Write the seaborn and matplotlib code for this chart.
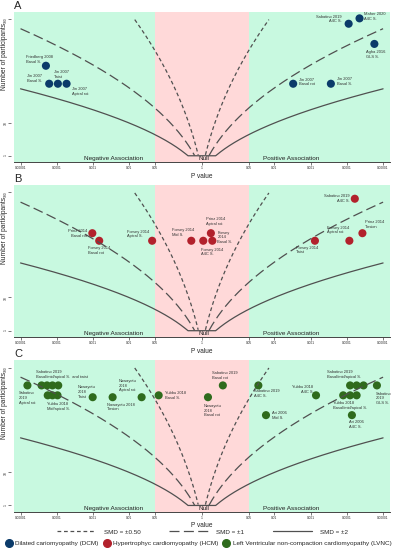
import numpy as np
import seaborn as sns
import matplotlib.pyplot as plt
from matplotlib.lines import Line2D
from statistics import NormalDist

# x position = signed -log10(p): < 0 negative association, > 0 positive association
dcm_labels = ["Friedberg 2008\nBasal S.", "Jin 2007\nBasal S.", "Jin 2007\nTwist", "Jin 2007\nApical rot",
              "Jin 2007\nBasal rot", "Jin 2007\nBasal S.", "Sabatino 2019\nA4C S.", "Maher 2020\nA4C S.",
              "Agha 2016\nGLS S."]
dcm_logp = [-4.30, -4.21, -3.97, -3.73, 2.52, 3.56, 4.05, 4.35, 4.76]
dcm_n = [48, 33, 33, 33, 33, 33, 94, 101, 70]

hcm_labels = ["Prinz 2014\nBasal rot", "Forsey 2014\nBasal rot", "Forsey 2014\nApical S.", "Forsey 2014\nMid S.",
              "Forsey 2014\nA4C S.", "Prinz 2014\nApical rot", "Forsey\n2014\nBasal S.", "Forsey 2014\nTwist",
              "Forsey 2014\nApical rot", "Prinz 2014\nTorsion", "Sabatino 2019\nA4C S."]
hcm_logp = [-3.02, -2.83, -1.37, -0.29, 0.04, 0.25, 0.29, 3.12, 4.07, 4.43, 4.22]
hcm_n = [54, 47, 47, 47, 47, 54, 47, 47, 47, 54, 92]

lvnc_labels = ["Sabatino\n2019\nApical rot", "Sabatino 2019\nBasal/mid/apical S.  and twist", "", "", "",
               "Yubbu 2018\nMid/apical S.", "", "",
               "Nawayotu\n2018\nTwist", "Nawayotu 2018\nTorsion", "Nawayotu\n2018\nApical rot",
               "Yubbu 2018\nBasal S.", "Nawayotu\n2018\nBasal rot", "Sabatino 2019\nBasal rot",
               "Sabatino 2019\nA4C S.", "Ari 2006\nMid S.", "Yubbu 2018\nA4C S.",
               "Sabatino 2019\nBasal/mid/apical S.", "", "",
               "Yubbu 2018\nBasal/mid/apical S.", "", "",
               "Sabatino\n2019\nGLS S.", "Ari 2006\nA4C S."]
lvnc_logp = [-4.81, -4.42, -4.27, -4.12, -3.96, -4.25, -4.12, -3.98,
             -3.01, -2.46, -1.66, -1.19, 0.17, 0.58, 1.56, 1.77, 3.15,
             4.09, 4.27, 4.46, 3.90, 4.09, 4.27, 4.83, 4.14]
lvnc_n = [78, 78, 78, 78, 78, 67, 67, 67,
          65, 65, 65, 67, 65, 78, 78, 47.5, 67,
          78, 78, 78, 67, 67, 67, 78, 47.5]

smd_values = [0.5, 1, 2]
smd_names = ["SMD = \u00b10.50", "SMD = \u00b11", "SMD = \u00b12"]
group_names = ["Dilated cariomyopathy (DCM)", "Hypertrophyc cardiomyopathy (HCM)",
               "Left Ventricular non-compaction cardiomyopathy (LVNC)"]

tick_pos = [-5, -4, -3, -2, -1.301, 0, 1.301, 2, 3, 4, 5]
tick_text = ["0.00001", "0.0001", "0.001", "0.01", "0.05", "1", "0.05", "0.01", "0.001", "0.0001", "0.00001"]

# label placement (dx px, dy px downwards, ha)
dcm_layout = [(-20, -6.5, "left"), (-22.6, -5, "left"), (-3.7, -9.5, "left"), (5, 7.5, "left"),
              (5.7, -1.7, "left"), (5.7, -2, "left"), (-7, -4.7, "right"), (4, -2, "left"),
              (-8.6, 10.8, "left")]
hcm_layout = [(-5, 0, "right"), (-11.6, 9.6, "left"), (-25.3, -6.7, "left"), (-19, -8, "left"),
              (-2.3, 11.3, "left"), (-5, -12, "left"), (5, -3.4, "left"), (-19, 9.3, "left"),
              (-22.3, -10.7, "left"), (2.4, -8.5, "left"), (-5, 0, "right")]
lvnc_layout = [(-8.7, 12.5, "left"), (-5.7, -11.2, "left"), None, None, None,
               (-1, 10.8, "left"), None, None,
               (-15, -5.3, "left"), (-6, 9.7, "left"), (-22.7, -11.5, "left"),
               (6.3, 0, "left"), (-4, 13.5, "left"), (-11.3, -10.2, "left"),
               (-4, 8, "left"), (5.7, 0, "left"), (-2.7, -6.2, "right"),
               (-23.3, -10.8, "left"), None, None,
               (-10.6, 9.8, "left"), None, None,
               (-1, 13, "left"), (-2.7, 9.2, "left")]

colors = ["#0b3b6a", "#b2212c", "#2f6b1d"]
line_col = "#505050"
dash_styles = [(3, 2.2), (8, 3.5), None]
green_bg = "#c8f9e0"
pink_bg = "#ffd9d9"

sns.set_theme(style="ticks")
plt.rcParams["font.family"] = ["Liberation Sans", "DejaVu Sans"]

fig = plt.figure(figsize=(3.97, 5.5), dpi=100)

norm = NormalDist()
xs = np.linspace(-5, 5, 1001)
zs = np.array([norm.inv_cdf(1 - 10 ** -abs(v) / 2) for v in xs])


def contour(d, floor):
    n = zs ** 2 * (4 + d ** 2 / 2) / d ** 2
    if floor:
        n = np.maximum(n, 1)
    else:
        n = np.where(n < 1, np.nan, n)
    return np.where(n > 100, np.nan, n)


panels = [
    ("A", dcm_logp, dcm_n, dcm_labels, dcm_layout, colors[0], [0.0353, 0.7055, 0.947, 0.2732]),
    ("B", hcm_logp, hcm_n, hcm_labels, hcm_layout, colors[1], [0.0353, 0.3873, 0.947, 0.2764]),
    ("C", lvnc_logp, lvnc_n, lvnc_labels, lvnc_layout, colors[2], [0.0353, 0.0696, 0.947, 0.2758]),
]

for letter, xv, nv, labs, layout, col, rect in panels:
    ax = fig.add_axes(rect)
    ax.set_yscale("function", functions=(lambda v: np.sqrt(np.clip(v, 0, None)), np.square))
    ax.set_xlim(-5.18, 5.19)
    ax.set_ylim(0.35, 110)
    ax.axvspan(-6, -1.301, color=green_bg, lw=0, zorder=0)
    ax.axvspan(1.301, 6, color=green_bg, lw=0, zorder=0)
    ax.axvspan(-1.301, 1.301, color=pink_bg, lw=0, zorder=0)

    for d, ds in zip(smd_values, dash_styles):
        line, = ax.plot(xs, contour(d, ds is None), color=line_col, lw=0.9, zorder=4)
        if ds is not None:
            line.set_dashes(ds)

    sns.scatterplot(x=xv, y=nv, ax=ax, s=34, color=col, edgecolor="none", zorder=3, legend=False)

    for x, n, lab, lay in zip(xv, nv, labs, layout):
        if not lab:
            continue
        dx, dy, ha = lay
        ax.annotate(lab, (x, n), xytext=(dx, -dy), textcoords="offset pixels", ha=ha, va="center",
                    fontsize=2.9, linespacing=1.25, color="#333333", zorder=5)

    trans = ax.get_xaxis_transform()
    ax.text(-2.44, 0.004, "Negative Association", transform=trans, ha="center", va="bottom",
            fontsize=4.6, color="#222222")
    ax.text(0.05, 0.004, "Null", transform=trans, ha="center", va="bottom", fontsize=4.6, color="#222222")
    ax.text(2.46, 0.004, "Positive Association", transform=trans, ha="center", va="bottom",
            fontsize=4.6, color="#222222")

    ax.set_xticks(tick_pos)
    ax.set_xticklabels(tick_text)
    ax.set_yticks([1, 10, 100])
    ax.set_yticklabels(["1", "10", "100"])
    ax.yaxis.set_minor_locator(plt.NullLocator())
    ax.tick_params(axis="both", length=2.0, width=0.5, color="#444444")
    ax.tick_params(axis="x", labelsize=2.3, pad=1.2)
    ax.tick_params(axis="y", labelsize=2.4, pad=0.6, labelrotation=90)
    for t in ax.get_yticklabels():
        t.set_va("center")
    ax.set_xlabel("P value", fontsize=4.7, labelpad=1.5)
    ax.set_ylabel("Number of participants", fontsize=4.8, va="center")
    ax.yaxis.set_label_coords(-0.026, 0.70)

    for side in ["top", "right", "left"]:
        ax.spines[side].set_visible(False)
    ax.spines["left"].set_position(("outward", 2))
    ax.spines["bottom"].set_color("#444444")
    ax.spines["bottom"].set_linewidth(0.7)

    ax.text(0.0, 1.005, letter, transform=ax.transAxes, ha="left", va="bottom", fontsize=8)

line_handles = []
for ds in dash_styles:
    h = Line2D([], [], color=line_col, lw=0.9)
    if ds is not None:
        h.set_dashes(ds)
    line_handles.append(h)
fig.legend(line_handles, smd_names, loc="center", bbox_to_anchor=(0.51, 0.033), ncol=3, frameon=False,
           fontsize=4.5, handlelength=6.3, handletextpad=1.2, columnspacing=4.6)

marker_handles = [Line2D([], [], marker="o", ls="", markersize=5.5, color=c) for c in colors]
fig.legend(marker_handles, group_names, loc="center", bbox_to_anchor=(0.5, 0.0127), ncol=3, frameon=False,
           fontsize=4.6, handletextpad=0.45, columnspacing=0.8, handlelength=1, borderaxespad=0,
           borderpad=0.1)

fig.savefig("out.png", dpi=100)
